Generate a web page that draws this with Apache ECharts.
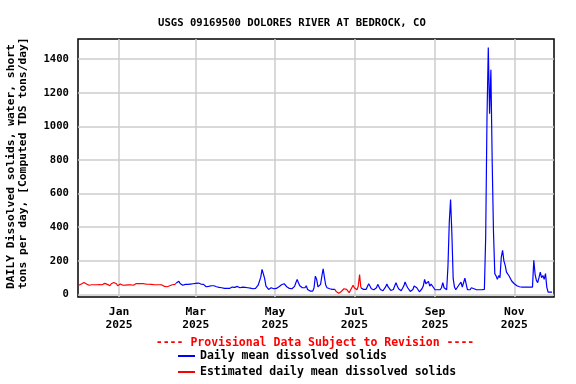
<!DOCTYPE html>
<html><head><meta charset="utf-8">
<script src="https://cdn.jsdelivr.net/npm/echarts@6/dist/echarts.min.js"></script>
<style>html,body{margin:0;padding:0;background:#fff}#c{width:576px;height:384px}</style>
</head><body><div id="c"></div>
<script>
// ---- data (daily values, tons/day) ----
const startDate = "2024-12-01";
const dec2024 = [55,58,62,66,71,68,62,58,55,56,58,58,58,58,58,58,59,60,58,60,66,55,60,66,52,64,58,71,60,64,52];
const jan2025 = [49,62,60,55,58,56,58,57,58,58,56,55,64,64,64,64,66,64,68,64,62,62,61,61,60,60,58,58,58,58,58];
const feb2025 = [58,58,57,50,48,46,46,46,52,62,58,55,60,68,72,78,65,58,55,62,60,58,60,62,62,62,64,64];
const mar2025 = [66,64,68,71,62,70,60,50,46,46,48,52,52,52,52,50,46,44,42,40,40,38,36,36,36,36,36,40,44,43,42];
const apr2025 = [42,48,42,40,42,44,44,42,40,40,38,38,36,34,34,36,44,55,64,103,149,123,94,50,44,30,32,40,38,34];
const may2025 = [34,36,42,46,52,58,64,64,58,46,40,36,34,34,38,48,70,90,70,52,44,40,34,40,52,30,20,20,22,20,40];
const jun2025 = [109,90,45,38,60,110,153,100,55,40,36,34,32,30,34,30,18,10,8,8,18,28,34,40,30,23,11,25,40,54];
const jul2025 = [40,30,28,50,118,40,34,30,28,30,40,64,50,34,28,28,30,40,60,45,30,24,22,28,45,62,45,34,24,22,30];
const aug2025 = [50,70,50,34,28,22,30,50,74,55,40,30,18,16,30,50,58,40,30,16,22,34,50,90,64,70,78,50,62,68,40];
const sep2025 = [28,28,28,28,28,40,70,40,34,28,170,430,565,360,94,44,28,30,52,60,74,44,70,97,62,28,28,28,40,50];
const oct2025 = [34,28,28,28,28,28,28,28,30,342,1050,1470,1075,1337,790,372,124,110,90,112,100,223,263,200,173,133,124,110,95,80,72];
const nov2025 = [64,60,52,48,46,44,44,44,44,44,44,44,44,44,44,203,120,84,70,100,133,100,113,90,124,44,14,14,14,14];

const estimatedPeriods = [["2024-12-01","2025-02-14"],["2025-06-16","2025-07-06"]];

const tickDates = ["2025-01-01","2025-03-01","2025-05-01","2025-07-01","2025-09-01","2025-11-01"];
const tickLabels = ["Jan\n2025","Mar\n2025","May\n2025","Jul\n2025","Sep\n2025","Nov\n2025"];
const yTicks = [0,200,400,600,800,1000,1200,1400];

const titleText = "USGS 09169500 DOLORES RIVER AT BEDROCK, CO";
const yName1 = "DAILY Dissolved solids, water, short";
const yName2 = "tons per day, [Computed TDS tons/day]";
const provisionalText = "---- Provisional Data Subject to Revision ----";
const seriesNames = ["Daily mean dissolved solids","Estimated daily mean dissolved solids"];

// ---- build ----
const DAY = 86400000;
const t0 = Date.parse(startDate + "T00:00:00Z");
const values = [].concat(dec2024,jan2025,feb2025,mar2025,apr2025,may2025,jun2025,jul2025,aug2025,sep2025,oct2025,nov2025);
const periods = estimatedPeriods.map(p => [Date.parse(p[0]+"T00:00:00Z"), Date.parse(p[1]+"T00:00:00Z")]);
const blue = [], red = [];
values.forEach((v, i) => {
  const t = t0 + i * DAY;
  const inEst = periods.some(p => t >= p[0] && t <= p[1]);
  const strict = periods.some(p => t > p[0] && t < p[1]);
  red.push([t, inEst ? v : null]);
  blue.push([t, strict ? null : v]);
});
const tickTimes = tickDates.map(d => Date.parse(d + "T00:00:00Z"));

const MONO = '"DejaVu Sans Mono", monospace';
const legendText = {fontFamily: MONO, fontWeight: 'bold', fontSize: 11.5, color: '#000', lineHeight: 14};
const chart = echarts.init(document.getElementById('c'), null, {renderer: 'canvas'});
chart.setOption({
  animation: false,
  backgroundColor: '#fff',
  title: {
    text: titleText, left: 153, top: 13,
    textStyle: {fontFamily: MONO, fontWeight: 'bold', fontSize: 10.6, color: '#000'}
  },
  grid: {left: 78, right: 22, top: 39, bottom: 87, show: true, borderColor: '#000', borderWidth: 1.5, backgroundColor: 'transparent'},
  xAxis: {
    type: 'value',
    min: Date.parse("2024-11-30T10:30:00Z"),
    max: Date.parse("2025-12-01T13:00:00Z"),
    axisLine: {show: false},
    axisTick: {show: false, customValues: tickTimes},
    splitLine: {show: true, lineStyle: {color: '#cccccc', width: 1.5}},
    axisLabel: {
      customValues: tickTimes,
      formatter: function (val) { const i = tickTimes.indexOf(+val); return i >= 0 ? tickLabels[i] : ''; },
      fontFamily: MONO, fontWeight: 'bold', fontSize: 11.3, color: '#000', lineHeight: 13, margin: 9
    }
  },
  yAxis: {
    type: 'value', min: -15, max: 1520,
    axisLine: {show: false},
    axisTick: {show: false, customValues: yTicks},
    splitLine: {show: true, lineStyle: {color: '#cccccc', width: 1.5}},
    axisLabel: {customValues: yTicks, formatter: function (v) { return String(v); },
      fontFamily: MONO, fontWeight: 'bold', fontSize: 10.6, color: '#000', margin: 9}
  },
  legend: [
    {left: 178, top: 349, itemWidth: 17, itemHeight: 2, icon: 'rect', itemGap: 0, padding: 0,
     data: [seriesNames[0]], textStyle: legendText},
    {left: 178, top: 365, itemWidth: 17, itemHeight: 2, icon: 'rect', itemGap: 0, padding: 0,
     data: [seriesNames[1]], textStyle: legendText}
  ],
  graphic: [
    {type: 'text', x: 11, y: 289, rotation: Math.PI / 2,
     style: {text: yName1, textAlign: 'left', textVerticalAlign: 'middle', font: 'bold 11.3px "DejaVu Sans Mono"', fill: '#000'}},
    {type: 'text', x: 23, y: 289, rotation: Math.PI / 2,
     style: {text: yName2, textAlign: 'left', textVerticalAlign: 'middle', font: 'bold 11.3px "DejaVu Sans Mono"', fill: '#000'}},
    {type: 'text', x: 315, y: 343,
     style: {text: provisionalText, textAlign: 'center', textVerticalAlign: 'middle', font: 'bold 11.5px "DejaVu Sans Mono"', fill: '#ff0000'}}
  ],
  series: [
    {name: seriesNames[0], type: 'line', data: blue, symbol: 'none', showSymbol: false, connectNulls: false,
     lineStyle: {color: '#0000ff', width: 1.2}, itemStyle: {color: '#0000ff'}, z: 3},
    {name: seriesNames[1], type: 'line', data: red, symbol: 'none', showSymbol: false, connectNulls: false,
     lineStyle: {color: '#ff0000', width: 1.2}, itemStyle: {color: '#ff0000'}, z: 2}
  ]
});
</script></body></html>
